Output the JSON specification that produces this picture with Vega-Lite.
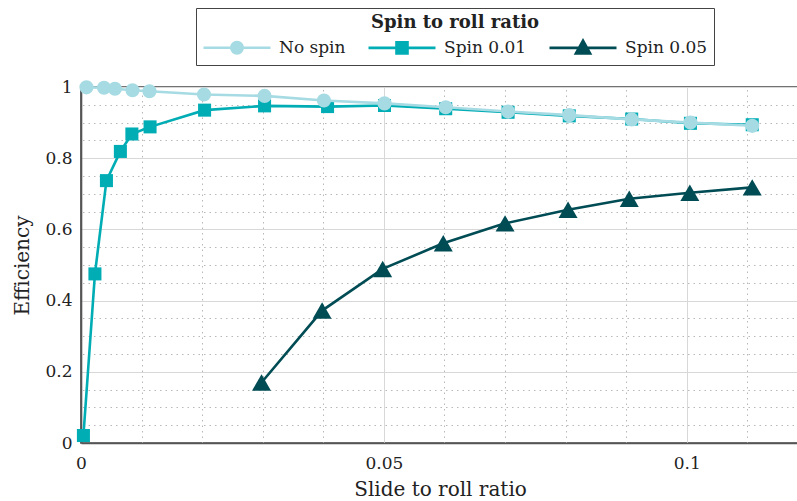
{
  "$schema": "https://vega.github.io/schema/vega-lite/v6.json",
  "autosize": {"type": "none"},
  "padding": {"left": 81, "top": 87, "right": 0, "bottom": 58},
  "width": 718,
  "height": 356,
  "background": "white",
  "config": {
    "font": "DejaVu Serif",
    "view": {"stroke": "#444", "strokeWidth": 1.6},
    "axis": {"labelFont": "DejaVu Serif", "titleFont": "DejaVu Serif", "labelColor": "#222", "titleColor": "#222", "titleFontWeight": "normal"}
  },
  "data": {
    "values": [
      {"series": "No spin", "x": 0.0009, "y": 0.999},
      {"series": "No spin", "x": 0.0038, "y": 0.998},
      {"series": "No spin", "x": 0.0056, "y": 0.995},
      {"series": "No spin", "x": 0.0085, "y": 0.991},
      {"series": "No spin", "x": 0.0113, "y": 0.988},
      {"series": "No spin", "x": 0.0203, "y": 0.979},
      {"series": "No spin", "x": 0.0303, "y": 0.975},
      {"series": "No spin", "x": 0.0401, "y": 0.962},
      {"series": "No spin", "x": 0.0501, "y": 0.954},
      {"series": "No spin", "x": 0.0602, "y": 0.943},
      {"series": "No spin", "x": 0.0705, "y": 0.931},
      {"series": "No spin", "x": 0.0806, "y": 0.921},
      {"series": "No spin", "x": 0.0909, "y": 0.909},
      {"series": "No spin", "x": 0.1006, "y": 0.900},
      {"series": "No spin", "x": 0.1108, "y": 0.891},
      {"series": "Spin 0.01", "x": 0.0004, "y": 0.021},
      {"series": "Spin 0.01", "x": 0.0023, "y": 0.475},
      {"series": "Spin 0.01", "x": 0.0042, "y": 0.737},
      {"series": "Spin 0.01", "x": 0.0065, "y": 0.819},
      {"series": "Spin 0.01", "x": 0.0084, "y": 0.868},
      {"series": "Spin 0.01", "x": 0.0114, "y": 0.888},
      {"series": "Spin 0.01", "x": 0.0204, "y": 0.935},
      {"series": "Spin 0.01", "x": 0.0303, "y": 0.947},
      {"series": "Spin 0.01", "x": 0.0407, "y": 0.945},
      {"series": "Spin 0.01", "x": 0.0501, "y": 0.948},
      {"series": "Spin 0.01", "x": 0.0602, "y": 0.939},
      {"series": "Spin 0.01", "x": 0.0705, "y": 0.929},
      {"series": "Spin 0.01", "x": 0.0806, "y": 0.919},
      {"series": "Spin 0.01", "x": 0.0909, "y": 0.910},
      {"series": "Spin 0.01", "x": 0.1006, "y": 0.898},
      {"series": "Spin 0.01", "x": 0.1108, "y": 0.894},
      {"series": "Spin 0.05", "x": 0.0298, "y": 0.170},
      {"series": "Spin 0.05", "x": 0.0398, "y": 0.372},
      {"series": "Spin 0.05", "x": 0.0498, "y": 0.489},
      {"series": "Spin 0.05", "x": 0.0598, "y": 0.561},
      {"series": "Spin 0.05", "x": 0.0700, "y": 0.617},
      {"series": "Spin 0.05", "x": 0.0804, "y": 0.655},
      {"series": "Spin 0.05", "x": 0.0905, "y": 0.686},
      {"series": "Spin 0.05", "x": 0.1005, "y": 0.703},
      {"series": "Spin 0.05", "x": 0.1108, "y": 0.718}
    ]
  },
  "resolve": {
    "axis": {"x": "independent", "y": "independent"}
  },
  "encoding": {
    "x": {"field": "x", "type": "quantitative", "scale": {"domain": [0, 0.11852], "nice": false, "zero": false}},
    "y": {"field": "y", "type": "quantitative", "scale": {"domain": [0, 1], "nice": false, "zero": false}}
  },
  "layer": [
    {
      "transform": [{"filter": "datum.series == 'Spin 0.05'"}],
      "mark": {"type": "line", "strokeWidth": 2.6, "clip": false, "color": "#004c55"},
      "encoding": {
        "x": {"field": "x", "type": "quantitative",
          "axis": {"orient": "bottom", "values": [0, 0.05, 0.1], "format": "~g", "title": "Slide to roll ratio",
            "titleFontSize": 20, "labelFontSize": 17, "titlePadding": 8, "labelPadding": 12,
            "grid": true, "gridColor": "#d8d8d8", "gridWidth": 1,
            "domain": true, "domainColor": "#555", "domainWidth": 1.6, "tickSize": 0, "labelFlush": false}},
        "y": {"field": "y", "type": "quantitative",
          "axis": {"orient": "left", "values": [0, 0.2, 0.4, 0.6, 0.8, 1], "format": "~g", "title": "Efficiency",
            "titleFontSize": 20, "labelFontSize": 17, "titlePadding": 12, "labelPadding": 9,
            "grid": true, "gridColor": "#d8d8d8", "gridWidth": 1,
            "domain": true, "domainColor": "#555", "domainWidth": 1.6, "tickSize": 0, "labelFlush": false}},
        "order": {"field": "x", "type": "quantitative"}
      }
    },
    {
      "transform": [{"filter": "datum.series == 'Spin 0.05'"}],
      "mark": {"type": "point", "shape": "triangle-up", "filled": true, "opacity": 1, "size": 360, "clip": false, "color": "#004c55"},
      "encoding": {
        "x": {"field": "x", "type": "quantitative",
          "axis": {"orient": "top", "values": [0.01, 0.02, 0.03, 0.04, 0.06, 0.07, 0.08, 0.09, 0.11], "labels": false, "ticks": false, "title": null,
            "grid": true, "gridColor": "#b8b8b8", "gridDash": [1.5, 4], "gridWidth": 1, "domain": false}},
        "y": {"field": "y", "type": "quantitative",
          "axis": {"orient": "right", "values": [0.05, 0.1, 0.15, 0.25, 0.3, 0.35, 0.45, 0.5, 0.55, 0.65, 0.7, 0.75, 0.85, 0.9, 0.95], "labels": false, "ticks": false, "title": null,
            "grid": true, "gridColor": "#b8b8b8", "gridDash": [1.5, 4], "gridWidth": 1, "domain": false}}
      }
    },
    {
      "transform": [{"filter": "datum.series == 'Spin 0.01'"}],
      "mark": {"type": "line", "strokeWidth": 2.6, "clip": false, "color": "#00adb5"},
      "encoding": {
        "x": {"field": "x", "type": "quantitative", "axis": null},
        "y": {"field": "y", "type": "quantitative", "axis": null},
        "order": {"field": "x", "type": "quantitative"}
      }
    },
    {
      "transform": [{"filter": "datum.series == 'Spin 0.01'"}],
      "mark": {"type": "point", "shape": "square", "filled": true, "opacity": 1, "size": 170, "clip": false, "color": "#00adb5"},
      "encoding": {
        "x": {"field": "x", "type": "quantitative", "axis": null},
        "y": {"field": "y", "type": "quantitative", "axis": null}
      }
    },
    {
      "transform": [{"filter": "datum.series == 'No spin'"}],
      "mark": {"type": "line", "strokeWidth": 2.6, "clip": false, "color": "#a6dbe3"},
      "encoding": {
        "x": {"field": "x", "type": "quantitative", "axis": null},
        "y": {"field": "y", "type": "quantitative", "axis": null},
        "order": {"field": "x", "type": "quantitative"}
      }
    },
    {
      "transform": [{"filter": "datum.series == 'No spin'"}],
      "mark": {"type": "point", "shape": "circle", "filled": true, "opacity": 1, "size": 200, "clip": false, "color": "#a6dbe3"},
      "encoding": {
        "x": {"field": "x", "type": "quantitative", "axis": null},
        "y": {"field": "y", "type": "quantitative", "axis": null}
      }
    },
    {
      "mark": {"type": "point", "filled": false, "size": 0, "opacity": 1, "strokeWidth": 2.6},
      "encoding": {
        "x": {"field": "x", "type": "quantitative", "axis": null},
        "y": {"field": "y", "type": "quantitative", "axis": null},
        "color": {"field": "series", "type": "nominal", "title": "Spin to roll ratio",
          "scale": {"domain": ["No spin", "Spin 0.01", "Spin 0.05"], "range": ["#a6dbe3", "#00adb5", "#004c55"]},
          "legend": {
            "orient": "none", "legendX": 115, "legendY": -79, "direction": "horizontal",
            "titleAnchor": "middle", "titleFontSize": 18, "titleFontWeight": "bold", "titleFont": "DejaVu Serif", "titleColor": "#222",
            "labelFontSize": 17, "labelFont": "DejaVu Serif", "labelColor": "#222", "labelOffset": 54,
            "symbolSize": 400, "symbolStrokeWidth": 2.6, "columnPadding": 17,
            "strokeColor": "#444", "padding": 6, "titlePadding": 4
          }},
        "shape": {"field": "series", "type": "nominal", "title": "Spin to roll ratio",
          "scale": {"domain": ["No spin", "Spin 0.01", "Spin 0.05"],
            "range": [
              "M-1,0H5.7M2.92,0A0.57,0.57 0 1,1 1.78,0A0.57,0.57 0 1,1 2.92,0ZM2.71,0A0.36,0.36 0 1,1 1.99,0A0.36,0.36 0 1,1 2.71,0ZM2.5,0A0.15,0.15 0 1,1 2.2,0A0.15,0.15 0 1,1 2.5,0Z",
              "M-1,0H5.7M1.8,-0.55H2.9V0.55H1.8ZM2.02,-0.33H2.68V0.33H2.02ZM2.24,-0.11H2.46V0.11H2.24Z",
              "M-1,0H5.7M2.35,-0.72L3.06,0.55L1.64,0.55ZM2.35,-0.25L2.67,0.32L2.03,0.32ZM2.35,0.02L2.44,0.17L2.26,0.17Z"
            ]}}
      }
    }
  ]
}
